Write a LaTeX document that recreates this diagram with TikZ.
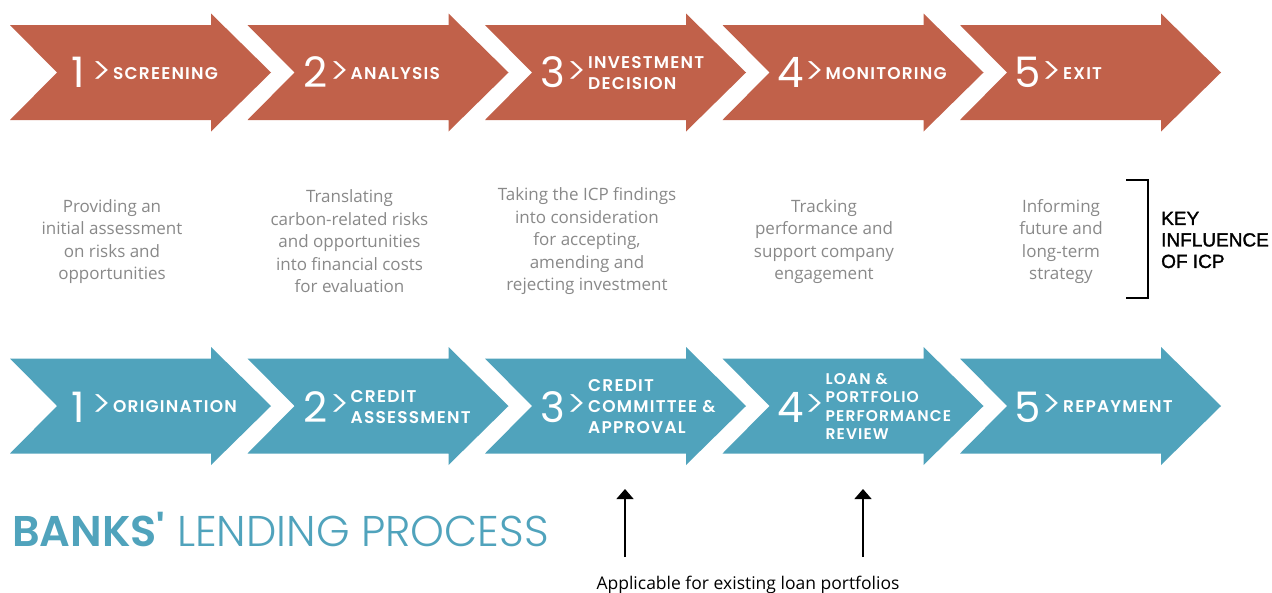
\documentclass[tikz,border=0pt]{standalone}
\usepackage{fontspec}
\usetikzlibrary{arrows.meta}
\newfontfamily\popR{Poppins}
\newfontfamily\popSB{Poppins SemiBold}
\newfontfamily\popSBls{Poppins SemiBold}[LetterSpace=7]
\newfontfamily\popL{Poppins Light}
\newfontfamily\descfont{Open Sans}
\newfontfamily\arialfont{Liberation Sans}[FakeBold=1.5]
\definecolor{rust}{HTML}{C1614A}
\definecolor{bankblue}{HTML}{50A3BC}
\definecolor{descgray}{HTML}{898989}
\tikzset{
  chev/.pic={\fill[pic actions] (0,-47.5) -- (201,-47.5) -- (201,-59) -- (261,0) -- (201,59) -- (201,47.5) -- (0,47.5) -- (47,0) -- cycle;},
  num/.style={text=white, font=\popR\fontsize{42}{42}\selectfont, inner sep=0, anchor=center},
  sepmark/.style={text=white, font=\popL\fontsize{38}{38}\selectfont, inner sep=0, anchor=center},
  lab/.style={text=white, font=\popSBls\fontsize{17}{21}\selectfont, inner sep=0, anchor=west, align=left},
  labsmall/.style={text=white, font=\popSBls\fontsize{15.5}{18.3}\selectfont, inner sep=0, anchor=west, align=left},
  desc/.style={text=descgray, font=\descfont\fontsize{17}{22.5}\selectfont, align=center, inner sep=0, anchor=center},
  keytext/.style={text=black, font=\arialfont\fontsize{19}{21.5}\selectfont, align=left, inner sep=0, anchor=west},
  bracket/.style={draw=black, line width=1.3pt},
  uparrow/.style={draw=black, line width=1.4pt, -{Triangle[width=17pt,length=10pt]}},
  note/.style={text=black, font=\descfont\fontsize{17.5}{20}\selectfont, inner sep=0, anchor=base},
  titleb/.style={text=bankblue, font=\popSB\fontsize{43}{43}\selectfont, inner sep=0, anchor=base west},
}
\begin{document}
\begin{tikzpicture}[x=1pt,y=-1pt]
\useasboundingbox (0,0) rectangle (1272,592);
\fill[white] (0,0) rectangle (1272,592);
% top row
\pic[fill=rust] (t1) at (10,72.5) {chev};
\pic[fill=rust] (t2) at (247.5,72.5) {chev};
\pic[fill=rust] (t3) at (485,72.5) {chev};
\pic[fill=rust] (t4) at (722.5,72.5) {chev};
\pic[fill=rust] (t5) at (960,72.5) {chev};
\node[num] (tn1) at (78,72.5) {1};
\node[num] (tn2) at (315.5,72.5) {2};
\node[num] (tn3) at (553,72.5) {3};
\node[num] (tn4) at (790.5,72.5) {4};
\node[num] (tn5) at (1028,72.5) {5};
\node[sepmark] (ts1) at (102,73) {>};
\node[sepmark] (ts2) at (339.5,73) {>};
\node[sepmark] (ts3) at (577,73) {>};
\node[sepmark] (ts4) at (814.5,73) {>};
\node[sepmark] (ts5) at (1052,73) {>};
\node[lab] (tl1) at (113,74) {SCREENING};
\node[lab] (tl2) at (350.5,74) {ANALYSIS};
\node[lab] (tl3) at (588,73) {INVESTMENT\\DECISION};
\node[lab] (tl4) at (825.5,74) {MONITORING};
\node[lab] (tl5) at (1063,74) {EXIT};
% bottom row
\pic[fill=bankblue] (b1) at (10,406) {chev};
\pic[fill=bankblue] (b2) at (247.5,406) {chev};
\pic[fill=bankblue] (b3) at (485,406) {chev};
\pic[fill=bankblue] (b4) at (722.5,406) {chev};
\pic[fill=bankblue] (b5) at (960,406) {chev};
\node[num] (bn1) at (78,407) {1};
\node[num] (bn2) at (315.5,407) {2};
\node[num] (bn3) at (553,407) {3};
\node[num] (bn4) at (790.5,407) {4};
\node[num] (bn5) at (1028,407) {5};
\node[sepmark] (bs1) at (102,406) {>};
\node[sepmark] (bs2) at (339.5,406) {>};
\node[sepmark] (bs3) at (577,406) {>};
\node[sepmark] (bs4) at (814.5,406) {>};
\node[sepmark] (bs5) at (1052,406) {>};
\node[lab] (bl1) at (113,407) {ORIGINATION};
\node[lab] (bl2) at (350.5,407) {CREDIT\\ASSESSMENT};
\node[lab] (bl3) at (588,406.5) {CREDIT\\COMMITTEE \&\\APPROVAL};
\node[labsmall] (bl4) at (825.5,406.5) {LOAN \&\\PORTFOLIO\\PERFORMANCE\\REVIEW};
\node[lab] (bl5) at (1063,407) {REPAYMENT};
% descriptions
\node[desc] (d1) at (112,241.5) {Providing an\\initial assessment\\on risks and\\opportunities};
\node[desc] (d2) at (349.5,241.5) {Translating\\carbon-related risks\\and opportunities\\into financial costs\\for evaluation};
\node[desc] (d3) at (587,241.5) {Taking the ICP findings\\into consideration\\for accepting,\\amending and\\rejecting investment};
\node[desc] (d4) at (824,241.5) {Tracking\\performance and\\support company\\engagement};
\node[desc] (d5) at (1061,241.5) {Informing\\future and\\long-term\\strategy};
% key bracket
\coordinate (kb1) at (1126,180);
\coordinate (kb2) at (1148,180);
\coordinate (kb3) at (1148,298);
\coordinate (kb4) at (1126,298);
\draw[bracket] (kb1) -- (kb2) -- (kb3) -- (kb4);
\node[keytext] (key) at (1161,240) {KEY\\INFLUENCE\\OF ICP};
% title
\node[titleb] (title) at (12,546) {BANKS'\popL\ LENDING PROCESS};
% arrows
\coordinate (a3s) at (625,557);
\coordinate (a3e) at (625,489);
\coordinate (a4s) at (863,557);
\coordinate (a4e) at (863,489);
\draw[uparrow] (a3s) -- (a3e);
\draw[uparrow] (a4s) -- (a4e);
\node[note] (appl) at (748,589) {Applicable for existing loan portfolios};
\end{tikzpicture}
\end{document}
